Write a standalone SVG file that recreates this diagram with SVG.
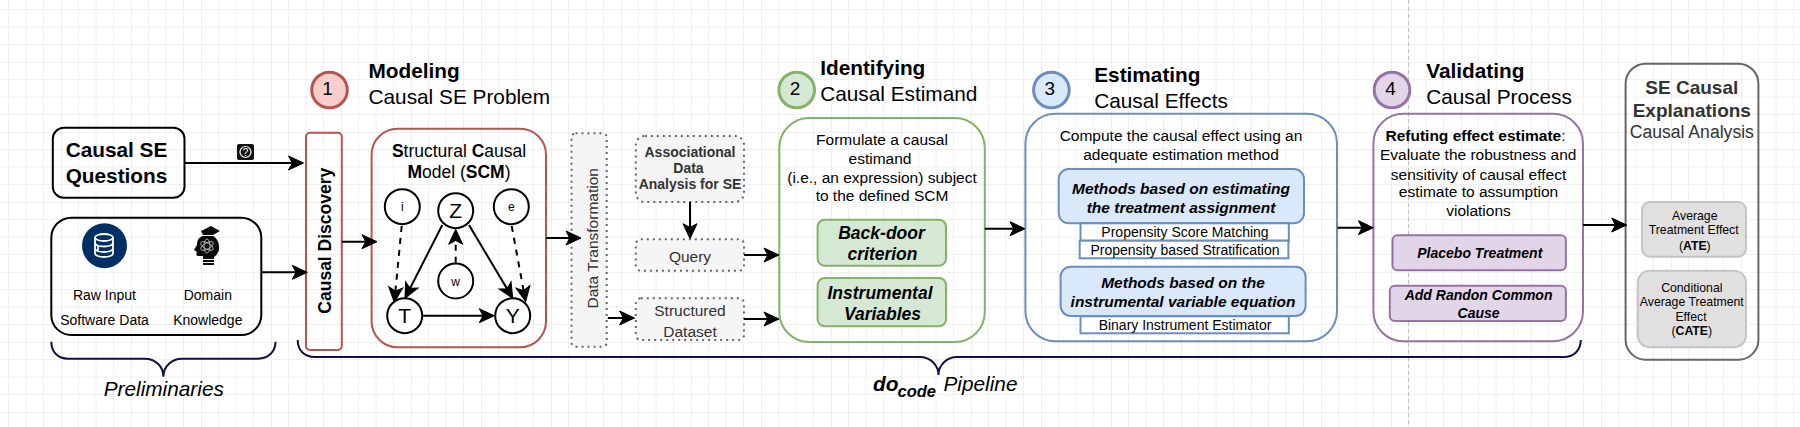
<svg xmlns="http://www.w3.org/2000/svg" width="1800" height="427" viewBox="0 0 1800 427">
<style>
text{font-family:"Liberation Sans",Arial,sans-serif;fill:#000;text-anchor:middle}
.s12{font-size:12.25px}.s14{font-size:14px}.s155{font-size:15.5px}.s175{font-size:17.5px}.s19{font-size:19px}.s208{font-size:20.8px}
.b{font-weight:bold}.bi{font-weight:bold;font-style:italic}.i{font-style:italic}
.l{text-anchor:start}.g{fill:#333}
.bk{fill:none;stroke:#000;stroke-width:2}
.red{fill:none;stroke:#b85450;stroke-width:2}
.grn{fill:none;stroke:#82b366;stroke-width:2}
.blu{fill:none;stroke:#6c8ebf;stroke-width:2}
.pur{fill:none;stroke:#9673a6;stroke-width:2}
.dot{fill:#f5f5f5;stroke:#666;stroke-width:2;stroke-dasharray:2 4}
.gf{fill:#d5e8d4;stroke:#82b366;stroke-width:2}
.bf{fill:#dae8fc;stroke:#6c8ebf;stroke-width:2}
.bw{fill:#fff;stroke:#6c8ebf;stroke-width:2}
.pf{fill:#e1d5e7;stroke:#9673a6;stroke-width:2}
.gy{fill:#e0e0e0;stroke:#c4c4c4;stroke-width:2}
.nc{fill:#fff;stroke:#000;stroke-width:2}
.cn{fill:none;stroke:#000;stroke-width:2;marker-end:url(#ah)}
.cd{fill:none;stroke:#000;stroke-width:2;stroke-dasharray:6 6;marker-end:url(#ah)}
.br{fill:none;stroke:#0f1140;stroke-width:2}
</style>
<defs>
<pattern id="grid" width="70" height="70" patternUnits="userSpaceOnUse" patternTransform="translate(61 62)">
<path d="M17.5 0V70M35 0V70M52.5 0V70M0 17.5H70M0 35H70M0 52.5H70" fill="none" stroke="#f0f0f0" stroke-width="1"/>
<path d="M0 0V70M0 0H70" fill="none" stroke="#e2e2e2" stroke-width="1.2"/>
</pattern>
<marker id="ah" markerUnits="userSpaceOnUse" markerWidth="18" markerHeight="16" refX="13" refY="7" orient="auto" overflow="visible">
<path d="M0 0L15 7L0 14L3.75 7Z" fill="#000" stroke="#000" stroke-width="1"/>
</marker>
</defs>
<rect width="1800" height="427" fill="#fff"/>
<rect width="1800" height="427" fill="url(#grid)"/>
<path d="M1408.6 0V427" stroke="#bdbdbd" stroke-width="1" stroke-dasharray="4 3" fill="none"/>

<g id="questions"><rect class="bk" x="52.8" y="127.7" width="131.7" height="70" rx="11"/>
<text class="s208 b" x="116.5" y="156.7">Causal SE</text><text class="s208 b" x="116.5" y="182.7">Questions</text></g>

<g id="question-icon"><rect x="237" y="144" width="17" height="16" rx="2" fill="#111"/><circle cx="245.5" cy="152" r="5.5" fill="none" stroke="#fff" stroke-width="1.2"/><text x="245.5" y="155.5" style="font-size:10px;fill:#fff">?</text></g>

<g id="inputs"><rect class="bk" x="51.3" y="217.7" width="210" height="117.3" rx="20"/>
<circle cx="104.5" cy="245.7" r="22.5" fill="#002f66"/>
<g fill="none" stroke="#fff" stroke-width="1.8"><ellipse cx="104" cy="237.5" rx="9" ry="3.5"/><path d="M95 237.5V253.5C95 255.5 99 257 104 257S113 255.5 113 253.5V237.5M95 243C95 245 99 246.5 104 246.5S113 245 113 243M95 248.5C95 250.5 99 252 104 252S113 250.5 113 248.5M98 245V252"/></g>
<path d="M201 231L211 226L220 231L213 235H203ZM203 236H213C217 238 219.5 243 219 249C218.5 253 216 256 214 257V259H203V256L198 256C196 256 196 253 197 252L194 250L197 245C197 240 199 237 203 236ZM203 260H214V262H203ZM203 263H214V265H203Z" fill="#0a0a0a"/>
<g fill="none" stroke="#ddd" stroke-width=".7"><ellipse cx="207" cy="246" rx="7" ry="3" transform="rotate(30 207 246)"/><ellipse cx="207" cy="246" rx="7" ry="3" transform="rotate(-30 207 246)"/><ellipse cx="207" cy="246" rx="7" ry="3" transform="rotate(90 207 246)"/></g>
<text class="s14" x="104.5" y="300">Raw Input</text><text class="s14" x="104.5" y="325">Software Data</text>
<text class="s14" x="207.8" y="300">Domain</text><text class="s14" x="207.8" y="325">Knowledge</text></g>

<g id="step1"><circle cx="329.5" cy="90" r="17.8" fill="#f8cecc" stroke="#b85450" stroke-width="3"/><text x="327.6" y="94.5" style="font-size:19px">1</text>
<text class="s208 b l" x="368.5" y="78.3">Modeling</text><text class="s208 l" x="368.5" y="104">Causal SE Problem</text></g>

<g id="causal-discovery"><rect class="red" x="306" y="132.7" width="35.8" height="217.3" rx="4"/>
<text class="s175 b" transform="translate(330.5 240.7) rotate(-90)">Causal Discovery</text></g>

<g id="scm"><rect class="red" x="371.6" y="128.7" width="174.4" height="218.6" rx="26"/>
<text class="s175" x="459" y="156.7"><tspan class="b">S</tspan>tructural <tspan class="b">C</tspan>ausal</text>
<text class="s175" x="459" y="177.7"><tspan class="b">M</tspan>odel (<tspan class="b">SCM</tspan>)</text></g>

<g id="node-i"><circle class="nc" cx="402.3" cy="206.7" r="17.5"/><text x="402.3" y="211" style="font-size:12px">i</text></g>
<g id="node-z"><circle class="nc" cx="455.7" cy="210.7" r="17.5"/><text x="455.7" y="218" style="font-size:21px">Z</text></g>
<g id="node-e"><circle class="nc" cx="511.3" cy="206.7" r="17.5"/><text x="511.3" y="211" style="font-size:12px">e</text></g>
<g id="node-w"><circle class="nc" cx="455.7" cy="281" r="17.5"/><text x="455.7" y="285.5" style="font-size:12px">w</text></g>
<g id="node-t"><circle class="nc" cx="404.7" cy="315.7" r="17.5"/><text x="404.7" y="323" style="font-size:21px">T</text></g>
<g id="node-y"><circle class="nc" cx="512.7" cy="315.7" r="17.5"/><text x="512.7" y="323" style="font-size:21px">Y</text></g>

<g id="data-transformation"><rect class="dot" x="571.5" y="133.3" width="35.2" height="213.4" rx="4"/>
<text class="s155 g" transform="translate(597.5 238.3) rotate(-90)">Data Transformation</text></g>

<g id="associational"><rect class="dot" x="635.8" y="136" width="108.2" height="66" rx="9"/>
<text class="s14 b g" x="690" y="156.7">Associational</text><text class="s14 b g" x="688.5" y="173.3">Data</text><text class="s14 b g" x="690" y="189.3">Analysis for SE</text></g>
<g id="query"><rect class="dot" x="635.8" y="239.3" width="108.2" height="31.4" rx="5"/><text class="s155 g" x="690" y="261.7">Query</text></g>
<g id="dataset"><rect class="dot" x="635.8" y="298.3" width="108.2" height="41.7" rx="5"/><text class="s155 g" x="690" y="316">Structured</text><text class="s155 g" x="690" y="336.7">Dataset</text></g>

<g id="step2"><circle cx="796.7" cy="90" r="17.8" fill="#d5e8d4" stroke="#82b366" stroke-width="3"/><text x="795" y="94.5" style="font-size:19px">2</text>
<text class="s208 b l" x="820.2" y="75.3">Identifying</text><text class="s208 l" x="820.2" y="100.7">Causal Estimand</text></g>
<g id="identifying"><rect class="grn" x="779.3" y="118" width="205.5" height="224" rx="30"/>
<text class="s155" x="882" y="145">Formulate a causal</text><text class="s155" x="880" y="163.7">estimand</text><text class="s155" x="882" y="183">(i.e., an expression) subject</text><text class="s155" x="882" y="201">to the defined SCM</text></g>
<g id="backdoor"><rect class="gf" x="817.6" y="219.7" width="128.4" height="46" rx="7"/><text class="s175 bi" x="881.5" y="238.7">Back-door</text><text class="s175 bi" x="882.5" y="259.7">criterion</text></g>
<g id="instrumental"><rect class="gf" x="817.6" y="278" width="128.4" height="48.3" rx="7"/><text class="s175 bi" x="880" y="299">Instrumental</text><text class="s175 bi" x="882.5" y="320">Variables</text></g>

<g id="step3"><circle cx="1051.4" cy="90" r="17.8" fill="#dae8fc" stroke="#6c8ebf" stroke-width="3"/><text x="1049.8" y="94.5" style="font-size:19px">3</text>
<text class="s208 b l" x="1094.2" y="82">Estimating</text><text class="s208 l" x="1094.2" y="107.7">Causal Effects</text></g>
<g id="estimating"><rect class="blu" x="1025.4" y="113.7" width="311.6" height="227.6" rx="30"/>
<text class="s155" x="1181" y="140.7">Compute the causal effect using an</text><text class="s155" x="1181" y="160">adequate estimation method</text></g>
<g id="methods-a"><rect class="bf" x="1058.7" y="169" width="245.3" height="54.3" rx="10"/><text class="s155 bi" x="1181" y="194">Methods based on estimating</text><text class="s155 bi" x="1181" y="213.3">the treatment assignment</text></g>
<g id="psm"><rect class="bw" x="1080.5" y="223.3" width="208.3" height="17.4"/><text class="s14" x="1185" y="236.7">Propensity Score Matching</text></g>
<g id="pbs"><rect class="bw" x="1079.7" y="240.7" width="208.7" height="17.6"/><text class="s14" x="1185" y="255">Propensity based Stratification</text></g>
<g id="methods-b"><rect class="bf" x="1060.6" y="266.7" width="245" height="49.3" rx="10"/><text class="s155 bi" x="1183" y="287.7">Methods based on the</text><text class="s155 bi" x="1183" y="306.7">instrumental variable equation</text></g>
<g id="binary"><rect class="bw" x="1080.5" y="316.3" width="208.3" height="17"/><text class="s14" x="1185" y="330">Binary Instrument Estimator</text></g>

<g id="step4"><circle cx="1392" cy="90" r="17.8" fill="#e1d5e7" stroke="#9673a6" stroke-width="3"/><text x="1390.6" y="94.5" style="font-size:19px">4</text>
<text class="s208 b l" x="1426.2" y="78.3">Validating</text><text class="s208 l" x="1426.2" y="104">Causal Process</text></g>
<g id="validating"><rect class="pur" x="1373.4" y="113.7" width="209.6" height="227.6" rx="30"/>
<text class="s155" x="1475.5" y="140.7"><tspan class="b">Refuting effect estimate</tspan>:</text><text class="s155" x="1478.2" y="160">Evaluate the robustness and</text><text class="s155" x="1478.5" y="180">sensitivity of causal effect</text><text class="s155" x="1478.5" y="196.7">estimate to assumption</text><text class="s155" x="1478.5" y="216">violations</text></g>
<g id="placebo"><rect class="pf" x="1392.5" y="235.3" width="173.4" height="35" rx="5"/><text class="s14 bi" x="1479.8" y="258.3">Placebo Treatment</text></g>
<g id="random-cause"><rect class="pf" x="1389.8" y="285.7" width="176.1" height="35.3" rx="5"/><text class="s14 bi" x="1478.6" y="300">Add Randon Common</text><text class="s14 bi" x="1478.6" y="318">Cause</text></g>

<g id="explanations"><rect x="1625.6" y="63.7" width="132.8" height="296" rx="20" fill="none" stroke="#666" stroke-width="2"/>
<text class="s19 b g" x="1691.8" y="94">SE Causal</text><text class="s19 b g" x="1691.8" y="116.7">Explanations</text><text class="g" x="1691.8" y="138.3" style="font-size:17.6px">Causal Analysis</text></g>
<g id="ate"><rect class="gy" x="1642" y="202" width="104" height="54.7" rx="8"/><text class="s12" x="1694.8" y="220">Average</text><text class="s12" x="1693.7" y="234.3">Treatment Effect</text><text class="s12" x="1694.8" y="250">(<tspan class="b">ATE</tspan>)</text></g>
<g id="cate"><rect class="gy" x="1637.8" y="270.7" width="108.2" height="76.6" rx="12"/><text class="s12" x="1691.8" y="291.7">Conditional</text><text class="s12" x="1691.8" y="306">Average Treatment</text><text class="s12" x="1691" y="320.7">Effect</text><text class="s12" x="1691.8" y="335">(<tspan class="b">CATE</tspan>)</text></g>

<g id="preliminaries"><path class="br" d="M51.3 341.7C51.3 352 58 358.7 68 358.7H145C155 358.7 163.4 366 163.4 376.7C163.4 366 172 358.7 182 358.7H258C268 358.7 275.5 352 275.5 341.7"/><text class="s208 i" x="163.8" y="396">Preliminaries</text></g>
<g id="pipeline"><path class="br" d="M297.7 340C297.7 350 304 357 315 357H920C930 357 938.5 365 938.5 375C938.5 365 947 357 957 357H1564C1574 357 1580.8 350 1580.8 340"/>
<text class="s208 bi l" x="873" y="390.7">do</text><text class="bi l" x="897.5" y="396.7" style="font-size:16.5px">code</text><text class="s208 i l" x="943.5" y="390.7">Pipeline</text></g>

<g id="connectors">
<path class="cn" d="M184.5 163H301.5"/>
<path class="cn" d="M261.4 272.3H305.3"/>
<path class="cn" d="M341.8 241.7H375"/>
<path class="cn" d="M546 238H579"/>
<path class="cn" d="M607.8 318H632.6"/>
<path class="cn" d="M690 202V236.7"/>
<path class="cn" d="M744 255H777"/>
<path class="cn" d="M744 319H777"/>
<path class="cn" d="M984.8 228.7H1023"/>
<path class="cn" d="M1337.5 227.7H1371.4"/>
<path class="cn" d="M1583 225H1624.7"/>
<path class="cd" d="M401.7 226L394.5 300.3"/>
<path class="cn" d="M442.3 225L405.9 296.5"/>
<path class="cn" d="M469 225L511.7 296.6"/>
<path class="cd" d="M511.7 226L525.3 299.7"/>
<path class="cd" d="M455.7 262.7V231.3"/>
<path class="cn" d="M422.7 315.7H492.3"/>
</g>
</svg>
